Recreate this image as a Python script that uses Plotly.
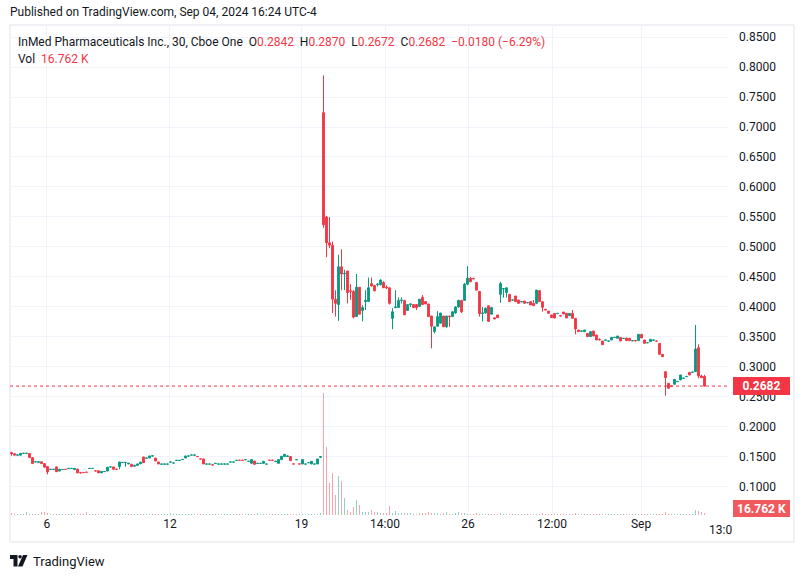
import plotly.graph_objects as go

# ---------------- data (30-minute bars) ----------------
opens = [
    .1575, .1555, .1530, .1530, .1560, .1560, .1560, .1490, .1418, .1410,
    .1420, .1390, .1340, .1290, .1290, .1335, .1265, .1290, .1295, .1305,
    .1308, .1290, .1300, .1237, .1242, .1247, .1308, .1308, .1270, .1270,
    .1235, .1255, .1265, .1333, .1335, .1297, .1338, .1408, .1408, .1383,
    .1380, .1345, .1360, .1385, .1500, .1480, .1483, .1515, .1483, .1417,
    .1380, .1380, .1380, .1415, .1398, .1442, .1442, .1458, .1483, .1515,
    .1531, .1530, .1508, .1469, .1467, .1381, .1381, .1369, .1392, .1381,
    .1381, .1381, .1381, .1415, .1415, .1442, .1446, .1446, .1454, .1426,
    .1394, .1433, .1392, .1392, .1394, .1381, .1446, .1446, .1426, .1394,
    .1456, .1506, .1506, .1506, .1385, .1454, .1385, .1383, .1381, .1404,
    .1383, .1381, .1383, .1494,
    .724, .550, .507, .503, .413, .404, .467, .455, .460, .427,
    .426, .384, .433, .394, .409, .409, .439, .436, .437, .437,
    .441, .433, .432, .381, .399, .399, .411, .411, .394, .404,
    .404, .404, .401, .416, .409, .405, .385, .359, .368, .373,
    .385, .367, .385, .384, .390, .400, .411, .411, .438, .448,
    .448, .441, .426, .389, .390, .402, .388, .382, .3867, .421,
    .4300, .4240, .4210, .4115, .4183, .4117, .4085, .4100, .4070, .4089,
    .4061, .4061, .4272, .4089, .3961, .3933, .3867, .3894, .3890, .3856,
    .3917, .3894, .3856, .3894, .3811, .3617, .3595, .3589, .3561, .3506,
    .3600, .3533, .3461, .3433, .3445, .3430, .3450, .3490, .3478, .3494,
    .3475, .3483, .3478, .3435, .3441, .3439, .3544, .3450, .3402, .3422,
    .3445, .3433, .3394, .3211, .2922, .2728, .2683, .2711, .2756, .2783,
    .2811, .2839, .2911, .2911, .2922, .3322, .2850, .2842,
]
highs = [
    .1580, .1555, .1535, .1560, .1565, .1562, .1560, .1490, .1420, .1420,
    .1420, .1390, .1340, .1295, .1295, .1340, .1295, .1292, .1295, .1310,
    .1310, .1310, .1300, .1237, .1242, .1247, .1310, .1310, .1270, .1270,
    .1260, .1260, .1330, .1335, .1335, .1297, .1417, .1410, .1412, .1395,
    .1380, .1360, .1385, .1415, .1500, .1483, .1517, .1520, .1483, .1417,
    .1383, .1383, .1383, .1417, .1400, .1444, .1444, .1460, .1517, .1517,
    .1533, .1533, .1508, .1469, .1467, .1383, .1383, .1369, .1394, .1383,
    .1383, .1383, .1383, .1417, .1417, .1444, .1446, .1446, .1456, .1428,
    .1456, .1433, .1394, .1394, .1428, .1383, .1446, .1446, .1428, .1456,
    .1511, .1544, .1517, .1506, .1385, .1456, .1385, .1456, .1383, .1406,
    .1428, .1383, .1467, .1517,
    .786, .552, .550, .509, .428, .487, .496, .462, .460, .438,
    .428, .455, .433, .403, .428, .449, .449, .436, .440, .446,
    .443, .436, .432, .398, .428, .416, .416, .411, .404, .406,
    .404, .405, .413, .420, .410, .405, .385, .367, .393, .390,
    .385, .385, .385, .393, .401, .412, .412, .440, .468, .450,
    .448, .441, .426, .400, .399, .402, .400, .382, .3867, .442,
    .4306, .4320, .4210, .4117, .4183, .4117, .4089, .4100, .4072, .4089,
    .4117, .4283, .4283, .4089, .3961, .3933, .3867, .3894, .3894, .3856,
    .3917, .3894, .3894, .3950, .3811, .3617, .3600, .3617, .3561, .3589,
    .3600, .3533, .3478, .3433, .3450, .3433, .3494, .3494, .3517, .3494,
    .3478, .3483, .3478, .3439, .3441, .3544, .3544, .3450, .3406, .3461,
    .3450, .3433, .3394, .3211, .2922, .2728, .2683, .2794, .2760, .2867,
    .2815, .2843, .2911, .2915, .3700, .3378, .2870, .2870,
]
lows = [
    .1520, .1530, .1530, .1525, .1560, .1560, .1490, .1390, .1418, .1410,
    .1390, .1330, .1210, .1290, .1290, .1255, .1265, .1290, .1292, .1305,
    .1308, .1290, .1235, .1235, .1240, .1245, .1308, .1308, .1267, .1235,
    .1235, .1255, .1265, .1333, .1295, .1295, .1295, .1408, .1338, .1383,
    .1340, .1345, .1360, .1385, .1400, .1480, .1483, .1515, .1433, .1383,
    .1380, .1380, .1380, .1415, .1398, .1442, .1442, .1458, .1483, .1515,
    .1531, .1530, .1506, .1467, .1383, .1381, .1381, .1367, .1392, .1381,
    .1381, .1381, .1381, .1415, .1415, .1442, .1444, .1444, .1454, .1426,
    .1394, .1378, .1392, .1392, .1394, .1381, .1444, .1444, .1426, .1394,
    .1456, .1506, .1506, .1439, .1383, .1454, .1383, .1383, .1381, .1404,
    .1383, .1381, .1383, .1494,
    .532, .483, .498, .390, .384, .377, .428, .428, .406, .412,
    .381, .384, .388, .376, .395, .409, .434, .426, .434, .436,
    .432, .430, .404, .363, .398, .399, .406, .387, .394, .400,
    .399, .395, .400, .404, .405, .384, .331, .356, .368, .373,
    .367, .365, .367, .384, .389, .399, .390, .410, .436, .442,
    .447, .428, .384, .376, .389, .376, .388, .380, .3822, .407,
    .4156, .4156, .4090, .4110, .4089, .4061, .4085, .4061, .4070, .4033,
    .4022, .4061, .4089, .3922, .3950, .3894, .3822, .3811, .3890, .3850,
    .3883, .3817, .3856, .3811, .3544, .3589, .3595, .3589, .3506, .3506,
    .3517, .3450, .3440, .3372, .3445, .3430, .3450, .3490, .3478, .3433,
    .3475, .3439, .3439, .3435, .3420, .3439, .3483, .3394, .3402, .3422,
    .3445, .3430, .3211, .3172, .2522, .2644, .2680, .2711, .2756, .2783,
    .2811, .2839, .2867, .2911, .2922, .2811, .2822, .2672,
]
closes = [
    .1555, .1530, .1535, .1560, .1562, .1562, .1490, .1390, .1420, .1420,
    .1390, .1330, .1250, .1295, .1295, .1255, .1295, .1292, .1292, .1310,
    .1310, .1310, .1235, .1235, .1240, .1245, .1310, .1310, .1267, .1235,
    .1260, .1258, .1330, .1335, .1295, .1295, .1417, .1410, .1410, .1395,
    .1340, .1360, .1385, .1415, .1405, .1483, .1517, .1520, .1433, .1383,
    .1383, .1383, .1383, .1417, .1400, .1444, .1444, .1460, .1517, .1517,
    .1533, .1533, .1506, .1467, .1383, .1383, .1383, .1367, .1394, .1383,
    .1383, .1383, .1383, .1417, .1417, .1444, .1444, .1444, .1456, .1428,
    .1456, .1378, .1394, .1394, .1428, .1383, .1444, .1444, .1428, .1456,
    .1511, .1544, .1517, .1439, .1383, .1456, .1383, .1456, .1383, .1406,
    .1428, .1383, .1467, .1506,
    .537, .507, .503, .413, .406, .467, .455, .456, .424, .426,
    .383, .433, .388, .399, .411, .432, .435, .427, .438, .445,
    .432, .432, .406, .392, .400, .411, .4115, .387, .404, .405,
    .399, .399, .413, .404, .405, .384, .368, .367, .384, .390,
    .367, .385, .384, .392, .400, .411, .392, .438, .448, .442,
    .447, .428, .389, .390, .398, .376, .399, .380, .3822, .439,
    .4306, .4320, .4090, .4117, .4089, .4061, .4089, .4061, .4072, .4033,
    .4022, .4283, .4089, .3994, .3950, .3894, .3822, .3817, .3894, .3850,
    .3883, .3817, .3894, .3811, .3633, .3589, .3600, .3617, .3506, .3589,
    .3517, .3450, .3455, .3372, .3450, .3433, .3494, .3494, .3517, .3433,
    .3478, .3439, .3439, .3439, .3439, .3544, .3483, .3394, .3406, .3461,
    .3450, .3430, .3211, .3172, .2822, .2644, .2680, .2794, .2760, .2867,
    .2815, .2843, .2867, .2915, .3300, .2850, .2822, .2682,
]
volumes_k = [
    22, 14, 10, 8, 12, 26, 10, 8, 9, 12,
    28, 30, 24, 10, 8, 9, 12, 10, 8, 11,
    9, 10, 12, 8, 9, 30, 12, 10, 9, 8,
    11, 10, 9, 12, 8, 10, 8, 14, 9, 10,
    12, 8, 11, 10, 9, 8, 12, 10, 9, 8,
    10, 11, 9, 24, 10, 8, 9, 12, 10, 8,
    9, 10, 11, 9, 10, 8, 9, 12, 10, 8,
    9, 11, 10, 9, 8, 10, 12, 9, 8, 11,
    10, 9, 22, 10, 9, 8, 12, 10, 9, 8,
    10, 11, 9, 10, 8, 9, 12, 10, 8, 9,
    10, 11, 9, 18,
    1200, 670, 315, 410, 195, 380, 335, 165, 50, 30,
    80, 150, 100, 30, 30, 25, 50, 25, 28, 20,
    22, 18, 85, 20, 35, 22, 20, 18, 24, 15,
    12, 14, 16, 20, 18, 30, 22, 15, 20, 12,
    18, 25, 14, 12, 16, 30, 20, 15, 12, 14,
    10, 16, 12, 10, 14, 12, 10, 11, 12, 18,
    10, 12, 14, 9, 12, 10, 8, 11, 9, 12,
    10, 14, 12, 16, 10, 9, 11, 12, 8, 10,
    9, 12, 10, 14, 20, 12, 10, 9, 11, 10,
    12, 9, 10, 14, 9, 8, 10, 9, 11, 10,
    8, 12, 9, 10, 8, 12, 10, 14, 9, 8,
    10, 9, 12, 14, 25, 12, 9, 10, 8, 11,
    9, 10, 12, 10, 50, 35, 28, 16.762,
]
time_tick_labels = ["6", "12", "19", "14:00", "26", "12:00", "Sep"]
time_tick_bars = [11.83, 52.83, 96.67, 124.5, 152.17, 180.17, 209.83]
edge_tick_label = "13:0"
edge_tick_bar = 236.3
price_ticks = [0.10, 0.15, 0.20, 0.25, 0.30, 0.35, 0.40, 0.45,
               0.50, 0.55, 0.60, 0.65, 0.70, 0.75, 0.80, 0.85]

# ---------------- styling ----------------
UP = "#089981"
DOWN = "#f23645"
UP_VOL = "rgba(8,153,129,0.45)"
DOWN_VOL = "rgba(242,54,69,0.45)"
TXT = "#131722"
GRID = "#f0f3fa"
FONT = "Roboto, Arial, sans-serif"

W, H = 804, 578
L, R, T, B = 10, 76, 25, 63
PW, PH = W - L - R, H - T - B


def px_x(px):
    return (px - L) / PW


def px_y(py):
    return (H - B - py) / PH


bars = list(range(len(opens)))
vol_colors = [UP_VOL if c >= o else DOWN_VOL for o, c in zip(opens, closes)]

fig = go.Figure()
fig.add_trace(go.Bar(
    x=bars, y=volumes_k, marker=dict(color=vol_colors, line=dict(width=0)),
    width=0.45, yaxis="y", hoverinfo="skip", showlegend=False,
))
fig.add_trace(go.Candlestick(
    x=bars, open=opens, high=highs, low=lows, close=closes,
    increasing=dict(line=dict(color=UP, width=1), fillcolor=UP),
    decreasing=dict(line=dict(color=DOWN, width=1), fillcolor=DOWN),
    whiskerwidth=0, yaxis="y2", hoverinfo="skip", showlegend=False,
))

last = closes[-1]
red = f"<span style='color:{DOWN}'>"
sp = "\u00a0\u00a0"
legend1 = (f"InMed Pharmaceuticals Inc., 30, Cboe One{sp}"
           f"O{red}{opens[-1]:.4f}</span>{sp}H{red}{highs[-1]:.4f}</span>{sp}"
           f"L{red}{lows[-1]:.4f}</span>{sp}C{red}{last:.4f}</span>{sp}"
           f"{red}\u22120.0180 (\u22126.29%)</span>")
legend2 = f"Vol{sp}{red}{volumes_k[-1]:.3f}\u00a0K</span>"

annotations = [
    dict(x=px_x(8), y=px_y(12), xref="paper", yref="paper", xanchor="left", yanchor="middle",
         text="Published on TradingView.com, Sep 04, 2024 16:24 UTC-4", showarrow=False,
         font=dict(size=12, color=TXT, family=FONT)),
    dict(x=px_x(16), y=px_y(42), xref="paper", yref="paper", xanchor="left", yanchor="middle",
         text=legend1, showarrow=False, font=dict(size=12, color=TXT, family=FONT)),
    dict(x=px_x(16), y=px_y(59), xref="paper", yref="paper", xanchor="left", yanchor="middle",
         text=legend2, showarrow=False, font=dict(size=12, color=TXT, family=FONT)),
    dict(x=px_x(761.5), y=last, xref="paper", yref="y2", xanchor="center", yanchor="middle",
         text=f"<b>{last:.4f}</b>", showarrow=False, bgcolor=DOWN, bordercolor=DOWN,
         borderpad=1, width=53, height=14, font=dict(size=12, color="white", family=FONT)),
    dict(x=px_x(761.5), y=px_y(508), xref="paper", yref="paper", xanchor="center", yanchor="middle",
         text=f"<b>{volumes_k[-1]:.3f} K</b>", showarrow=False, bgcolor="#f05a5f",
         bordercolor="#f05a5f", borderpad=1, width=53, height=13,
         font=dict(size=12, color="white", family=FONT)),
    dict(x=edge_tick_bar, y=px_y(530), xref="x", yref="paper", xanchor="center", yanchor="middle",
         text=edge_tick_label, showarrow=False, font=dict(size=12, color=TXT, family=FONT)),
    dict(x=px_x(31), y=px_y(561), xref="paper", yref="paper", xanchor="left", yanchor="middle",
         text="TradingView", showarrow=False, font=dict(size=13, color=TXT, family=FONT)),
]


def poly(points):
    return "M " + " L ".join(f"{px_x(a):.5f},{px_y(b):.5f}" for a, b in points) + " Z"


shapes = [
    dict(type="rect", xref="paper", yref="paper", x0=px_x(10), x1=px_x(794),
         y0=px_y(542), y1=px_y(25), line=dict(color="#e0e3eb", width=1), layer="below"),
    dict(type="line", xref="paper", yref="y2", x0=0, x1=1, y0=last, y1=last,
         line=dict(color=DOWN, width=1, dash="dot")),
    # TradingView logo mark
    dict(type="path", xref="paper", yref="paper", fillcolor=TXT, line=dict(width=0),
         path=poly([(10, 555), (17.5, 555), (17.5, 566.5), (13.5, 566.5), (13.5, 559), (10, 559)])),
    dict(type="circle", xref="paper", yref="paper", fillcolor=TXT, line=dict(width=0),
         x0=px_x(18.3), x1=px_x(21.8), y0=px_y(558.5), y1=px_y(555)),
    dict(type="path", xref="paper", yref="paper", fillcolor=TXT, line=dict(width=0),
         path=poly([(23, 555), (27.5, 555), (22.5, 566.5), (18, 566.5)])),
]

fig.update_layout(
    width=W, height=H,
    margin=dict(l=L, r=R, t=T, b=B),
    paper_bgcolor="white", plot_bgcolor="white",
    font=dict(family=FONT, size=12, color=TXT),
    showlegend=False,
    bargap=0,
    boxgap=0.15,
    xaxis=dict(
        range=[-0.5, 238.83], tickmode="array", tickvals=time_tick_bars, ticktext=time_tick_labels,
        showgrid=True, gridcolor=GRID, gridwidth=1, zeroline=False, showline=False, ticks="",
        rangeslider=dict(visible=False), tickfont=dict(size=12, color=TXT), fixedrange=True,
    ),
    yaxis=dict(range=[0, 4800], visible=False, showgrid=False, fixedrange=True),
    yaxis2=dict(
        overlaying="y", side="right", range=[0.0533, 0.87], tickmode="array",
        tickvals=price_ticks, tickformat=".4f", showgrid=True, gridcolor=GRID, gridwidth=1,
        zeroline=False, showline=False, ticks="", ticklabelstandoff=10,
        tickfont=dict(size=12, color=TXT), fixedrange=True,
    ),
    annotations=annotations,
    shapes=shapes,
)

fig.write_html("out.html", config={"displayModeBar": False},
               post_script="document.body.style.margin='0';")
